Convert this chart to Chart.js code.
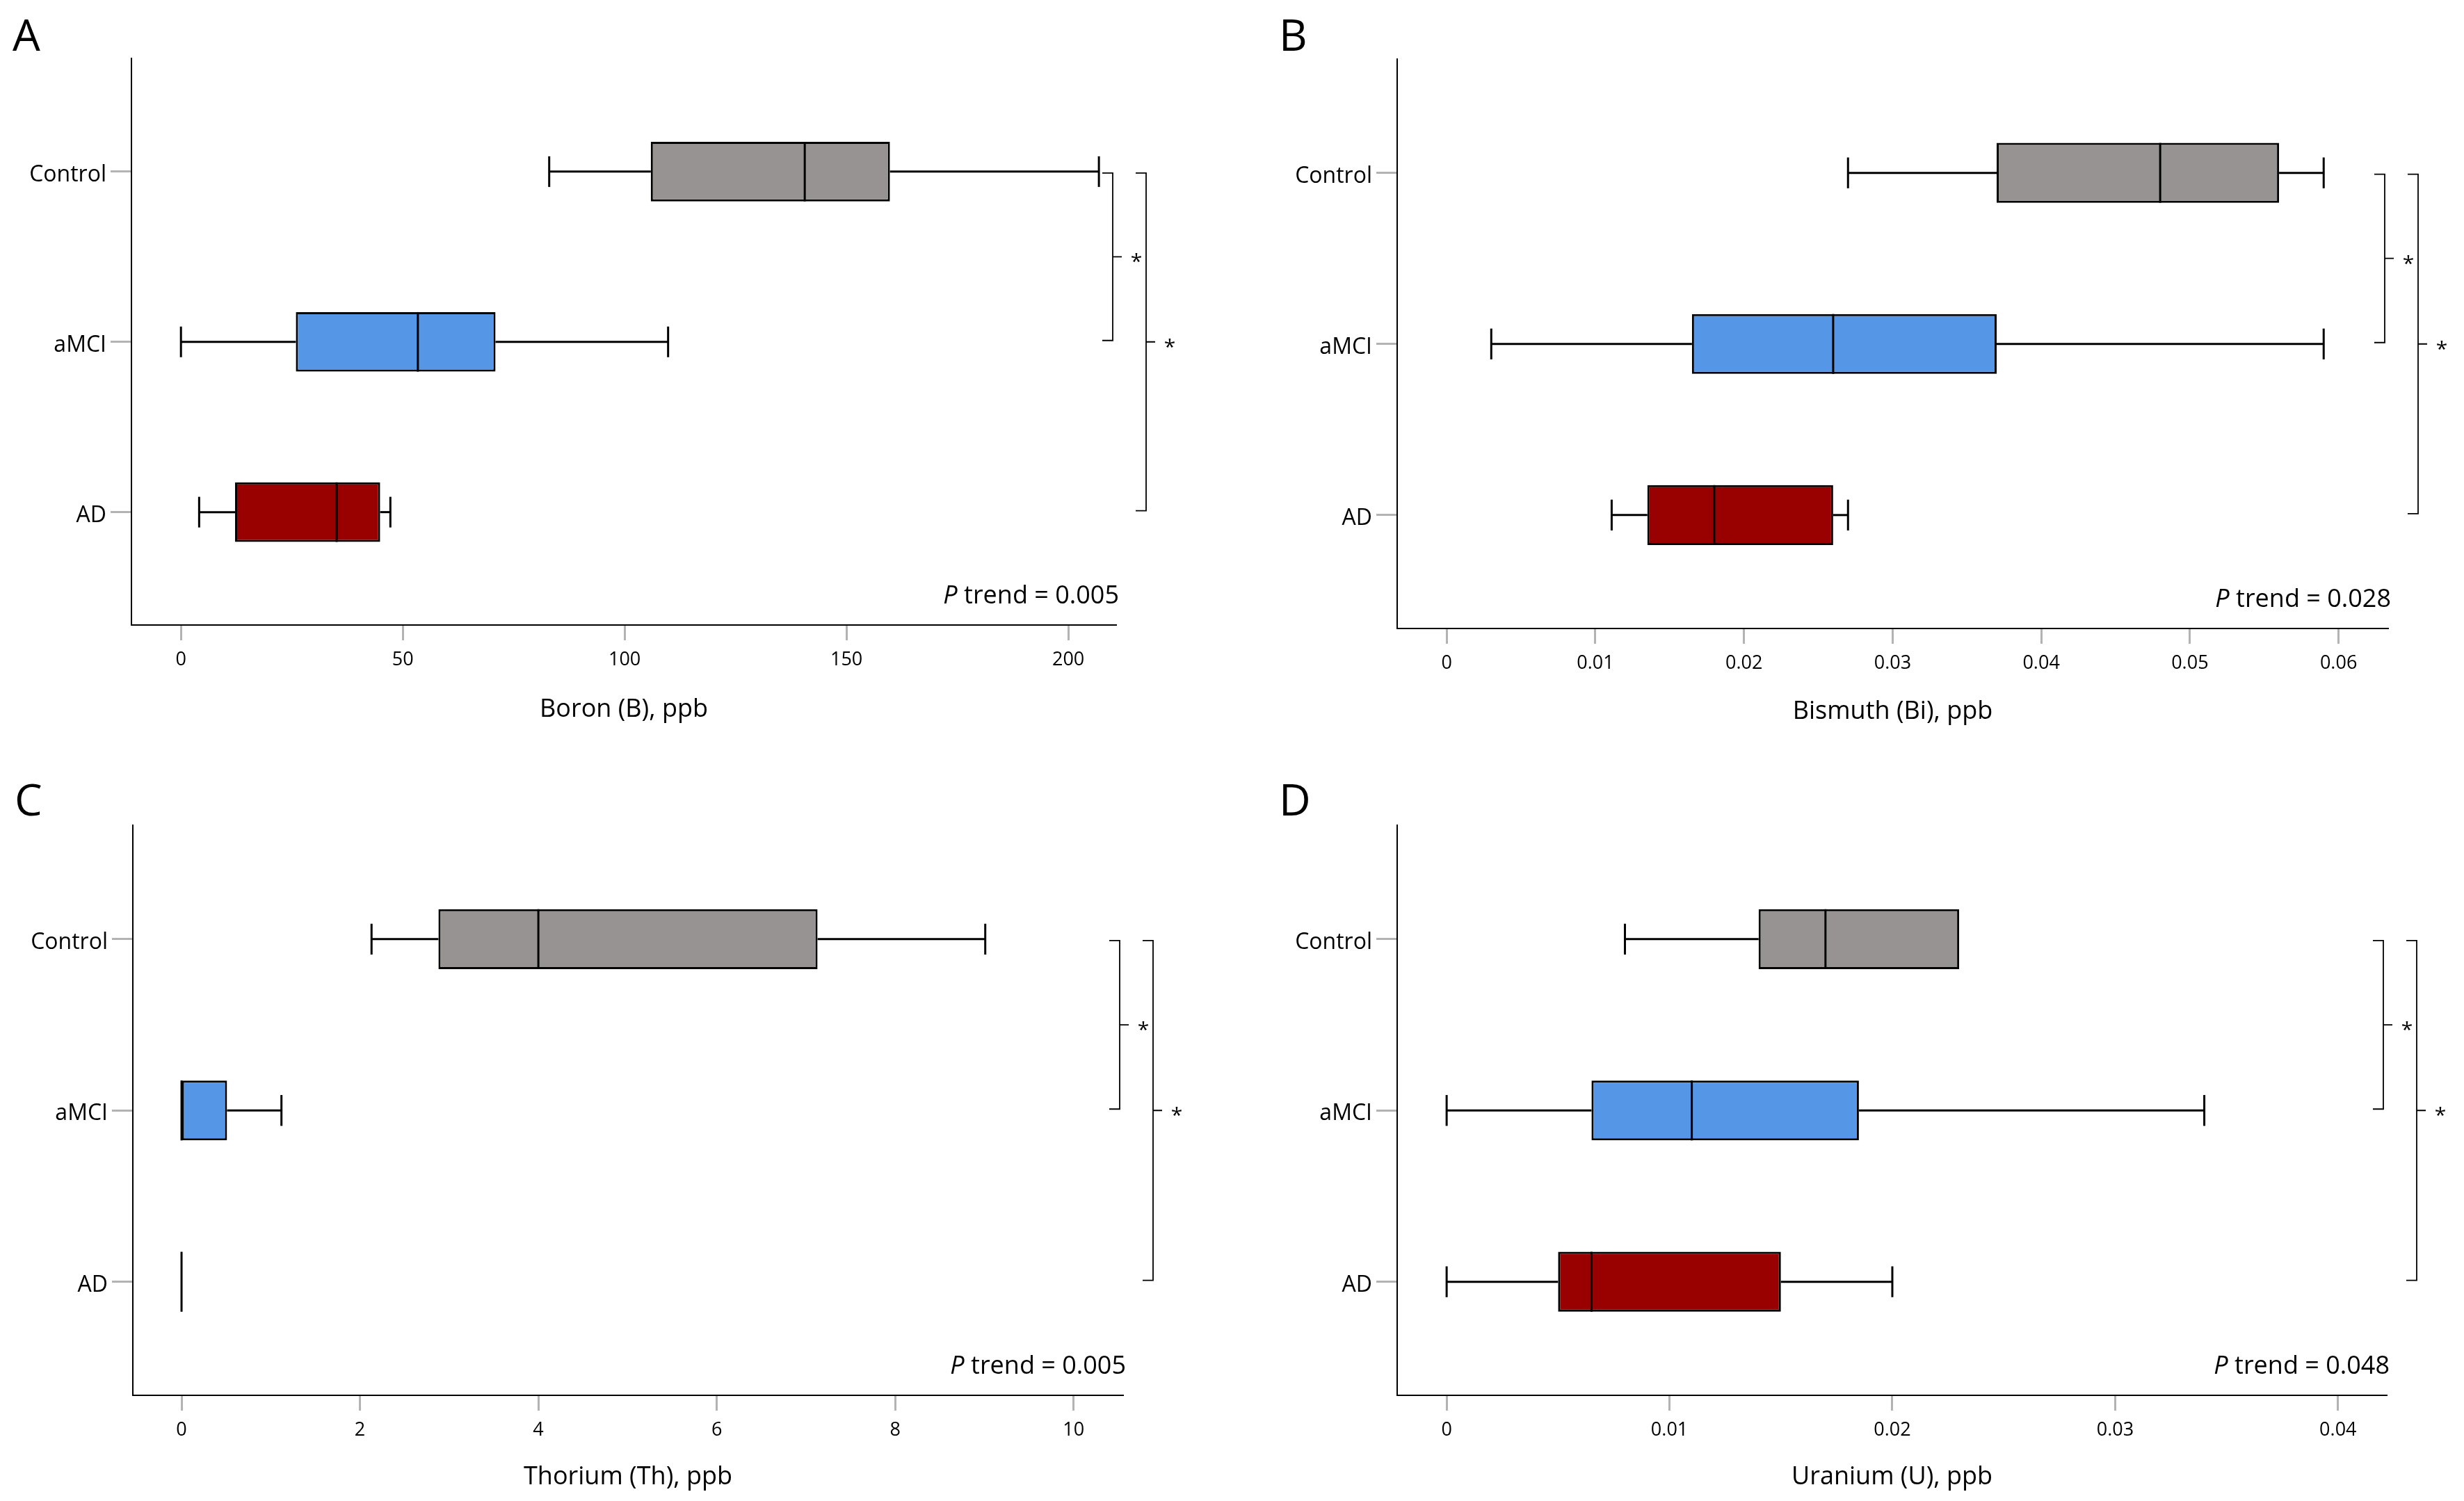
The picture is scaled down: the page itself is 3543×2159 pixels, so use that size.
<!DOCTYPE html>
<html>
<head>
<meta charset="utf-8">
<script src="https://cdn.jsdelivr.net/npm/chart.js@4.4.1/dist/chart.umd.min.js"></script>
<style>
  body { margin: 0; background: #fff; width: 3543px; height: 2159px; position: relative; overflow: hidden; }
  .panel { position: absolute; }
</style>
</head>
<body>
<div class="panel" style="left:0;top:0;width:1771px;height:1080px"><canvas id="cA"></canvas></div>
<div class="panel" style="left:1771px;top:0;width:1772px;height:1080px"><canvas id="cB"></canvas></div>
<div class="panel" style="left:0;top:1080px;width:1771px;height:1079px"><canvas id="cC"></canvas></div>
<div class="panel" style="left:1771px;top:1080px;width:1772px;height:1079px"><canvas id="cD"></canvas></div>
<script>
const groups = ['Control', 'aMCI', 'AD'];
const groupColors = ['#979392', '#5596e6', '#990000'];

// five-number summaries, order: Control, aMCI, AD
const boronMin = [83.0, 0, 4.1];
const boronQ1 = [105.9, 25.9, 12.2];
const boronMed = [140.6, 53.4, 35.1];
const boronQ3 = [159.8, 70.9, 44.9];
const boronMax = [206.9, 109.8, 47.2];
const boronTicks = [0, 50, 100, 150, 200];

const bismuthMin = [0.0270, 0.0030, 0.0111];
const bismuthQ1 = [0.0370, 0.0165, 0.0135];
const bismuthMed = [0.0480, 0.0260, 0.0180];
const bismuthQ3 = [0.0560, 0.0370, 0.0260];
const bismuthMax = [0.0590, 0.0590, 0.0270];
const bismuthTicks = [0, 0.01, 0.02, 0.03, 0.04, 0.05, 0.06];

const thoriumMin = [2.13, 0, 0];
const thoriumQ1 = [2.88, 0, 0];
const thoriumMed = [4.00, 0, 0];
const thoriumQ3 = [7.13, 0.51, 0];
const thoriumMax = [9.01, 1.12, 0];
const thoriumTicks = [0, 2, 4, 6, 8, 10];

const uraniumMin = [0.0080, 0, 0];
const uraniumQ1 = [0.0140, 0.0065, 0.0050];
const uraniumMed = [0.0170, 0.0110, 0.0065];
const uraniumQ3 = [0.0230, 0.0185, 0.0150];
const uraniumMax = [0.0230, 0.0340, 0.0200];
const uraniumTicks = [0, 0.01, 0.02, 0.03, 0.04];

const comparisons = [[0, 1], [0, 2]];
const compLabels = ['*', '*'];
const pTrends = ['0.005', '0.028', '0.005', '0.048'];

const FONT = '"Open Sans", "DejaVu Sans", sans-serif';

function boxParts(p) {
  return {
    id: 'boxParts',
    beforeDatasetsDraw(chart) {
      const ctx = chart.ctx, x = chart.scales.x, y = chart.scales.y;
      const cap = Math.abs(y.getPixelForValue(0.09) - y.getPixelForValue(0));
      ctx.save();
      ctx.strokeStyle = '#000';
      ctx.lineWidth = 3;
      const line = (x1, y1, x2, y2) => { ctx.beginPath(); ctx.moveTo(x1, y1); ctx.lineTo(x2, y2); ctx.stroke(); };
      p.min.forEach((v, i) => {
        const yc = y.getPixelForValue(i);
        if (v < p.q1[i]) {
          line(x.getPixelForValue(v), yc, x.getPixelForValue(p.q1[i]), yc);
          line(x.getPixelForValue(v), yc - cap, x.getPixelForValue(v), yc + cap);
        }
        if (p.max[i] > p.q3[i]) {
          line(x.getPixelForValue(p.q3[i]), yc, x.getPixelForValue(p.max[i]), yc);
          line(x.getPixelForValue(p.max[i]), yc - cap, x.getPixelForValue(p.max[i]), yc + cap);
        }
      });
      ctx.restore();
    },
    afterDatasetsDraw(chart) {
      const ctx = chart.ctx, x = chart.scales.x, y = chart.scales.y, area = chart.chartArea;
      const bars = chart.getDatasetMeta(0).data;
      ctx.save();
      ctx.strokeStyle = '#000';
      ctx.fillStyle = '#000';
      // medians
      ctx.lineWidth = 3;
      p.med.forEach((v, i) => {
        const h = bars[i].height / 2, yc = y.getPixelForValue(i), xm = x.getPixelForValue(v);
        ctx.beginPath(); ctx.moveTo(xm, yc - h); ctx.lineTo(xm, yc + h); ctx.stroke();
      });
      // significance brackets
      ctx.lineWidth = 1.8;
      ctx.font = '30px ' + FONT;
      ctx.textAlign = 'center';
      ctx.textBaseline = 'alphabetic';
      comparisons.forEach((c, k) => {
        const bx = area.right + (k === 0 ? -5 : 43);
        const y1 = y.getPixelForValue(c[0]) + 2, y2 = y.getPixelForValue(c[1]) - 2;
        const ym = (y1 + y2) / 2;
        ctx.beginPath();
        ctx.moveTo(bx - 15, y1); ctx.lineTo(bx, y1); ctx.lineTo(bx, y2); ctx.lineTo(bx - 15, y2);
        ctx.moveTo(bx, ym); ctx.lineTo(bx + 13, ym);
        ctx.stroke();
        ctx.fillText(compLabels[k], bx + 34, ym + 17);
      });
      // P trend note
      ctx.textAlign = 'left';
      const base = area.bottom - 31;
      ctx.font = '36px ' + FONT;
      const rest = ' trend = ' + p.ptrend;
      const wRest = ctx.measureText(rest).width;
      ctx.font = 'italic 36px ' + FONT;
      const wP = ctx.measureText('P').width;
      const x0 = area.right + 4 - wP - wRest;
      ctx.fillText('P', x0, base);
      ctx.font = '36px ' + FONT;
      ctx.fillText(rest, x0 + wP, base);
      // panel letter
      ctx.font = '63px ' + FONT;
      ctx.fillText(p.letter, p.letterX, p.letterY);
      ctx.restore();
    }
  };
}

function makePanel(id, p) {
  const data = groups.map((g, i) => ({ y: i, x: [p.q1[i], p.q3[i]] }));
  new Chart(document.getElementById(id), {
    type: 'bar',
    data: {
      datasets: [{
        data: data,
        backgroundColor: groupColors,
        borderColor: '#000',
        borderWidth: 3,
        borderSkipped: false,
        categoryPercentage: 0.35,
        barPercentage: 1
      }]
    },
    options: {
      indexAxis: 'y',
      responsive: true,
      maintainAspectRatio: false,
      devicePixelRatio: 1,
      animation: false,
      layout: { padding: { left: 0, right: p.padR, top: p.padT, bottom: 0 } },
      plugins: { legend: { display: false }, tooltip: { enabled: false } },
      scales: {
        y: {
          type: 'linear',
          reverse: true,
          offset: false,
          min: -0.665,
          max: 2.663,
          afterFit: s => { s.width = p.axisL; },
          afterBuildTicks: s => { s.ticks = groups.map((g, i) => ({ value: i })); },
          ticks: { callback: v => groups[v], color: '#000', padding: 6, labelOffset: 5, font: { family: FONT, size: 32 } },
          grid: { offset: false, drawOnChartArea: false, drawTicks: true, tickLength: 30, tickColor: '#b3b3b3', tickWidth: 3 },
          border: { display: true, color: '#000', width: 2 }
        },
        x: {
          type: 'linear',
          offset: false,
          min: p.range[0],
          max: p.range[1],
          afterFit: s => { s.height = p.axisH; },
          afterBuildTicks: s => { s.ticks = p.ticks.map(v => ({ value: v })); },
          ticks: { callback: v => String(v), color: '#000', padding: 12, maxRotation: 0, font: { family: FONT, size: 27 } },
          grid: { offset: false, drawOnChartArea: false, drawTicks: true, tickLength: 22, tickColor: '#b3b3b3', tickWidth: 3 },
          border: { display: true, color: '#000', width: 2 },
          title: { display: true, text: p.title, color: '#000', font: { family: FONT, size: 36 }, padding: { top: 0, bottom: p.titlePad } }
        }
      }
    },
    plugins: [boxParts(p)]
  });
}

makePanel('cA', { letter: 'A', letterX: 18, letterY: 73, title: 'Boron (B), ppb', ptrend: pTrends[0],
  min: boronMin, q1: boronQ1, med: boronMed, q3: boronQ3, max: boronMax, ticks: boronTicks,
  range: [-11.16, 210.8], axisL: 189, padR: 166, padT: 84, axisH: 181, titlePad: 38 });
makePanel('cB', { letter: 'B', letterX: 68, letterY: 73, title: 'Bismuth (Bi), ppb', ptrend: pTrends[1],
  min: bismuthMin, q1: bismuthQ1, med: bismuthMed, q3: bismuthQ3, max: bismuthMax, ticks: bismuthTicks,
  range: [-0.00333, 0.06334], axisL: 238, padR: 109, padT: 85, axisH: 176, titlePad: 35 });
makePanel('cC', { letter: 'C', letterX: 21, letterY: 93, title: 'Thorium (Th), ppb', ptrend: pTrends[2],
  min: thoriumMin, q1: thoriumQ1, med: thoriumMed, q3: thoriumQ3, max: thoriumMax, ticks: thoriumTicks,
  range: [-0.546, 10.556], axisL: 191, padR: 156, padT: 107, axisH: 152, titlePad: 13 });
makePanel('cD', { letter: 'D', letterX: 68, letterY: 93, title: 'Uranium (U), ppb', ptrend: pTrends[3],
  min: uraniumMin, q1: uraniumQ1, med: uraniumMed, q3: uraniumQ3, max: uraniumMax, ticks: uraniumTicks,
  range: [-0.00222, 0.04219], axisL: 238, padR: 111, padT: 107, axisH: 152, titlePad: 13 });
</script>
</body>
</html>
